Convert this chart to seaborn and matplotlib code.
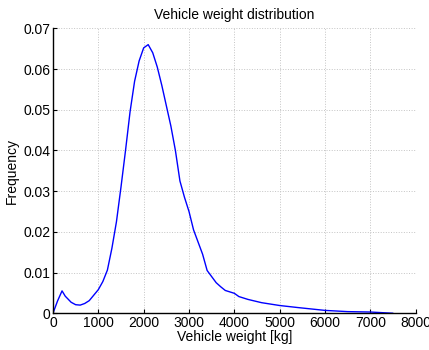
import numpy as np
import pandas as pd
import seaborn as sns
import matplotlib.pyplot as plt

# Curve values
weight_kg = [0, 100, 200, 270, 400, 500, 600, 700, 800, 1000, 1100, 1200, 1300,
             1400, 1500, 1600, 1700, 1800, 1900, 2000, 2100, 2200, 2300, 2400,
             2500, 2600, 2700, 2800, 2900, 3000, 3100, 3200, 3300, 3400, 3500,
             3600, 3700, 3800, 4000, 4100, 4300, 4600, 5000, 5400, 6000, 6500,
             7000, 7500]
frequency = [0.0, 0.0030, 0.0055, 0.0042, 0.0027, 0.0021, 0.0020, 0.0024, 0.0031,
             0.0058, 0.0078, 0.0106, 0.0160, 0.0225, 0.0310, 0.0400, 0.0495,
             0.0570, 0.0620, 0.0652, 0.0660, 0.0640, 0.0605, 0.0560, 0.0510,
             0.0460, 0.0400, 0.0325, 0.0285, 0.0250, 0.0205, 0.0175, 0.0145,
             0.0105, 0.0090, 0.0075, 0.0065, 0.0056, 0.0049, 0.0041, 0.0034,
             0.0026, 0.0019, 0.0014, 0.0007, 0.0004, 0.0003, 0.0]

x_ticks = [0, 1000, 2000, 3000, 4000, 5000, 6000, 7000, 8000]
y_ticks = [0, 0.01, 0.02, 0.03, 0.04, 0.05, 0.06, 0.07]
y_tick_labels = ["0", "0.01", "0.02", "0.03", "0.04", "0.05", "0.06", "0.07"]

df = pd.DataFrame({"weight": weight_kg, "freq": frequency})

sns.set_style("ticks")
plt.rcParams["font.family"] = ["Liberation Sans", "DejaVu Sans"]
plt.rcParams["xtick.direction"] = "in"
plt.rcParams["ytick.direction"] = "in"
plt.rcParams["text.color"] = "black"
plt.rcParams["axes.labelcolor"] = "black"
plt.rcParams["xtick.color"] = "black"
plt.rcParams["ytick.color"] = "black"
plt.rcParams["axes.edgecolor"] = "black"

fig = plt.figure(figsize=(4.29, 3.5), dpi=100)
ax = fig.add_axes([0.1235, 0.105, 0.8455, 0.814])

sns.lineplot(data=df, x="weight", y="freq", color="blue", linewidth=1, ax=ax)

ax.set_xlim(0, 8000)
ax.set_ylim(0, 0.07)
ax.set_xticks(x_ticks)
ax.set_yticks(y_ticks)
ax.set_yticklabels(y_tick_labels)
ax.tick_params(labelsize=10, length=3, width=0.8, pad=2)
ax.grid(True, linestyle=":", color="#c4c4c4", linewidth=0.7)

for side in ["top", "right"]:
    ax.spines[side].set_visible(False)
for side in ["left", "bottom"]:
    ax.spines[side].set_linewidth(1)

ax.set_title("Vehicle weight distribution", fontsize=10, pad=7)
ax.set_xlabel("Vehicle weight [kg]", fontsize=10, labelpad=0)
ax.set_ylabel("Frequency", fontsize=10, labelpad=3)

fig.savefig("out.png", dpi=100)
